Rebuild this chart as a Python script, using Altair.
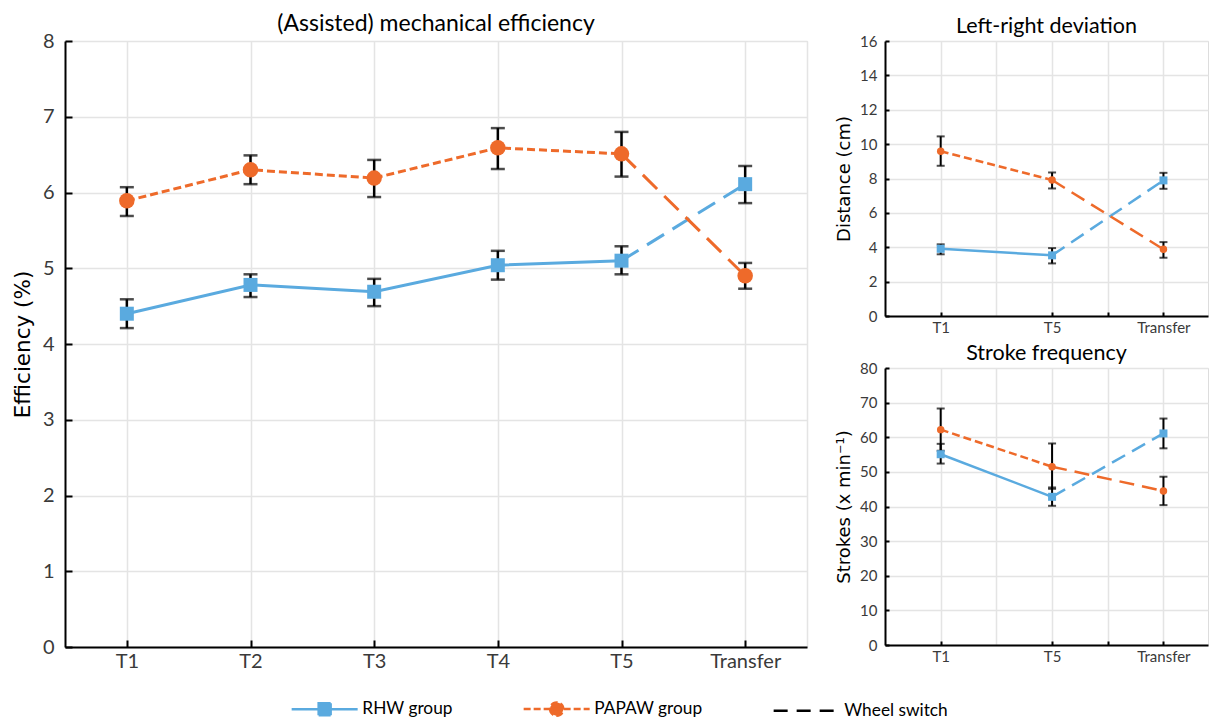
import altair as alt
import pandas as pd

FONT = "Lato"
TFONT = "DejaVu Sans"
BLUE = "#5aaadf"
ORANGE = "#ee6a2a"
GRID = "#e4e4e4"
TXT = "#3a3a3a"

# ---------------- data ----------------
# (Assisted) mechanical efficiency
eff_labels = ["T1", "T2", "T3", "T4", "T5", "Transfer"]
eff_pos = [1, 2, 3, 4, 5, 6]
eff_rhw_mean = [4.40, 4.78, 4.69, 5.04, 5.10, 6.11]
eff_rhw_lo = [4.21, 4.62, 4.50, 4.85, 4.92, 5.86]
eff_rhw_hi = [4.59, 4.92, 4.86, 5.23, 5.29, 6.35]
eff_papaw_mean = [5.89, 6.30, 6.19, 6.59, 6.51, 4.90]
eff_papaw_lo = [5.69, 6.11, 5.94, 6.31, 6.21, 4.73]
eff_papaw_hi = [6.07, 6.49, 6.43, 6.85, 6.80, 5.07]

# small panels share the time points
sub_labels = ["T1", "T5", "Transfer"]
sub_pos = [1, 3, 5]

# Left-right deviation (cm)
dev_rhw_mean = [3.91, 3.53, 7.89]
dev_rhw_lo = [3.59, 3.06, 7.40]
dev_rhw_hi = [4.17, 3.95, 8.33]
dev_papaw_mean = [9.59, 7.91, 3.88]
dev_papaw_lo = [8.74, 7.42, 3.39]
dev_papaw_hi = [10.45, 8.35, 4.30]

# Stroke frequency (strokes/min)
freq_rhw_mean = [55.1, 42.8, 61.1]
freq_rhw_lo = [52.4, 40.2, 56.8]
freq_rhw_hi = [58.1, 45.5, 65.4]
freq_papaw_mean = [62.2, 51.5, 44.5]
freq_papaw_lo = [56.1, 45.1, 40.4]
freq_papaw_hi = [68.3, 58.2, 48.6]

legend_names = ["RHW group", "PAPAW group", "Wheel switch"]
legend_colors = [BLUE, ORANGE, "black"]


def make_df(pos, rm, rlo, rhi, pm, plo, phi):
    rows = []
    last = pos[-1]
    prev = pos[-2]
    for grp, m, lo, hi in (("RHW group", rm, rlo, rhi), ("PAPAW group", pm, plo, phi)):
        for p, a, b, c in zip(pos, m, lo, hi):
            rows.append(dict(x=p, group=grp, mean=a, lo=b, hi=c,
                             train=p < last, switch=p >= prev))
    return pd.DataFrame(rows)


def label_expr(pos, labels):
    expr = "''"
    for p, l in zip(reversed(pos), reversed(labels)):
        expr = f"datum.value == {p} ? '{l}' : ({expr})"
    return expr


def panel(df, title, title_size, ytitle, ytitle_size, ydomain, yvals, xdomain,
          grid_x, tick_x, lab_pos, labels, width, height, lab_size,
          line_w, short_dash, long_dash, cap, err_w, sq_size, ci_size,
          tick_len, ylab_pad, ytitle_pad, title_off, legend_layer=None):
    xs = alt.Scale(domain=xdomain, nice=False, zero=False)
    ys = alt.Scale(domain=ydomain, nice=False)
    x_main = alt.Axis(orient="bottom", values=grid_x, labelExpr=label_expr(lab_pos, labels),
                      ticks=False, domain=True, domainColor="black", domainWidth=2,
                      grid=True, gridColor=GRID, gridWidth=1.5, labelFont=FONT,
                      labelFontSize=lab_size, labelColor=TXT, labelPadding=4,
                      labelOverlap=False, title=None)
    y_main = alt.Axis(orient="left", values=yvals, ticks=False, domain=True,
                      domainColor="black", domainWidth=2, grid=True, gridColor=GRID,
                      gridWidth=1.5, labelFont=FONT, labelFontSize=lab_size,
                      labelColor=TXT, labelPadding=ylab_pad, title=ytitle,
                      titleFont=TFONT, titleFontSize=ytitle_size, titleFontWeight="normal",
                      titleColor="black", titlePadding=ytitle_pad)
    x_ticks = alt.Axis(orient="top", offset=-height, values=tick_x, labels=False,
                       domain=False, grid=False, ticks=True, tickSize=tick_len,
                       tickWidth=2, tickColor="black", title=None)
    y_ticks = alt.Axis(orient="right", offset=-width, values=yvals, labels=False,
                       domain=False, grid=False, ticks=True, tickSize=tick_len,
                       tickWidth=2, tickColor="black", title=None)

    base = alt.Chart(df)
    rhw = "datum.group == 'RHW group'"
    pap = "datum.group == 'PAPAW group'"

    l1 = base.transform_filter(f"{rhw} && datum.train").mark_line(
        color=BLUE, strokeWidth=line_w).encode(
        x=alt.X("x:Q", scale=xs, axis=x_main),
        y=alt.Y("mean:Q", scale=ys, axis=y_main))
    l2 = base.transform_filter(f"{pap} && datum.train").mark_line(
        color=ORANGE, strokeWidth=line_w, strokeDash=short_dash).encode(
        x=alt.X("x:Q", scale=xs, axis=None), y=alt.Y("mean:Q", scale=ys, axis=None))
    l3 = base.transform_filter(f"{rhw} && datum.switch").mark_line(
        color=BLUE, strokeWidth=line_w, strokeDash=long_dash).encode(
        x=alt.X("x:Q", scale=xs, axis=None), y=alt.Y("mean:Q", scale=ys, axis=None))
    l4 = base.transform_filter(f"{pap} && datum.switch").mark_line(
        color=ORANGE, strokeWidth=line_w, strokeDash=long_dash).encode(
        x=alt.X("x:Q", scale=xs, axis=None), y=alt.Y("mean:Q", scale=ys, axis=None))
    er = base.mark_rule(color="black", strokeWidth=err_w).encode(
        x=alt.X("x:Q", scale=xs, axis=x_ticks),
        y=alt.Y("lo:Q", scale=ys, axis=y_ticks), y2="hi:Q")
    t1 = base.mark_tick(color="black", orient="horizontal", size=cap, thickness=err_w).encode(
        x=alt.X("x:Q", scale=xs, axis=None), y=alt.Y("lo:Q", scale=ys, axis=None))
    t2 = base.mark_tick(color="black", orient="horizontal", size=cap, thickness=err_w).encode(
        x=alt.X("x:Q", scale=xs, axis=None), y=alt.Y("hi:Q", scale=ys, axis=None))
    m1 = base.transform_filter(rhw).mark_point(
        shape="square", filled=True, color=BLUE, size=sq_size, opacity=1).encode(
        x=alt.X("x:Q", scale=xs, axis=None), y=alt.Y("mean:Q", scale=ys, axis=None))
    m2 = base.transform_filter(pap).mark_point(
        shape="circle", filled=True, color=ORANGE, size=ci_size, opacity=1).encode(
        x=alt.X("x:Q", scale=xs, axis=None), y=alt.Y("mean:Q", scale=ys, axis=None))
    layers = [l1, l2, l3, l4, er, t1, t2, m1, m2]
    if legend_layer is not None:
        layers.append(legend_layer)
    return alt.layer(*layers).resolve_axis(x="independent", y="independent").properties(
        width=width, height=height,
        title=alt.TitleParams(title, font=FONT, fontSize=title_size, fontWeight="normal",
                              color="black", offset=title_off))


df_eff = make_df(eff_pos, eff_rhw_mean, eff_rhw_lo, eff_rhw_hi,
                 eff_papaw_mean, eff_papaw_lo, eff_papaw_hi)
df_dev = make_df(sub_pos, dev_rhw_mean, dev_rhw_lo, dev_rhw_hi,
                 dev_papaw_mean, dev_papaw_lo, dev_papaw_hi)
df_freq = make_df(sub_pos, freq_rhw_mean, freq_rhw_lo, freq_rhw_hi,
                  freq_papaw_mean, freq_papaw_lo, freq_papaw_hi)

# legend (drawn by the library from the colour / shape / dash scales)
leg = alt.Legend(title=None, orient="none", legendX=216, legendY=659, direction="horizontal",
                 symbolSize=144, symbolStrokeWidth=2.5, labelFont=FONT, labelFontSize=17.3,
                 labelColor="black", symbolOffset=35, labelOffset=29, columnPadding=60)
shape_paths = ["M-5.5,0H5.5M-1,-1H1V1H-1Z",
               "M-5.5,0H5.5M-1.1,0A1.1,1.1,0,1,0,1.1,0A1.1,1.1,0,1,0,-1.1,0Z",
               "M-5.5,0H5.5"]
dash_range = [[1, 0], [7, 3], [14, 9]]
legend_layer = alt.Chart(df_eff).transform_filter("false").mark_point(
    filled=True, opacity=1).encode(
    x=alt.X("x:Q", axis=None), y=alt.Y("mean:Q", axis=None),
    color=alt.Color("group:N", scale=alt.Scale(domain=legend_names, range=legend_colors), legend=leg),
    stroke=alt.Stroke("group:N", scale=alt.Scale(domain=legend_names, range=legend_colors), legend=leg),
    shape=alt.Shape("group:N", scale=alt.Scale(domain=legend_names, range=shape_paths), legend=leg),
    strokeDash=alt.StrokeDash("group:N", scale=alt.Scale(domain=legend_names, range=dash_range), legend=leg),
)

left = panel(df_eff, "(Assisted) mechanical efficiency", 23, "Efficiency (%)", 21.5,
             [0, 8], list(range(0, 9)), [0.5, 6.5], [1, 2, 3, 4, 5, 6, 6.5],
             [1, 2, 3, 4, 5, 6], eff_pos, eff_labels, 742, 606, 20,
             3, [8, 4], [20, 10], 14, 2.5, 196, 240, 7, 11, 8, -5,
             legend_layer=legend_layer)

right_top = panel(df_dev, "Left-right deviation", 21.5, "Distance (cm)", 18,
                  [0, 16], list(range(0, 17, 2)), [0, 5.8], [1, 2, 3, 4, 5],
                  [1, 3, 4, 5], sub_pos, sub_labels, 323, 275, 15,
                  2.5, [8, 4], [15, 8], 8, 2, 64, 56, 4, 8, 6, -3)

right_bot = panel(df_freq, "Stroke frequency", 21.5, "Strokes (x min⁻¹)", 18,
                  [0, 80], list(range(0, 81, 10)), [0, 5.8], [1, 2, 3, 4, 5],
                  [1, 3, 4, 5], sub_pos, sub_labels, 323, 277, 15,
                  2.5, [8, 4], [15, 8], 8, 2, 64, 56, 4, 8, 6, -3)

chart = alt.hconcat(left, alt.vconcat(right_top, right_bot, spacing=6), spacing=27).properties(
    padding={"left": 3, "top": 4, "right": 0, "bottom": 0}
).configure_view(stroke=None).configure(font=FONT).configure_legend(padding=0)

chart.save("out.html", embed_options={"renderer": "svg", "actions": False})
